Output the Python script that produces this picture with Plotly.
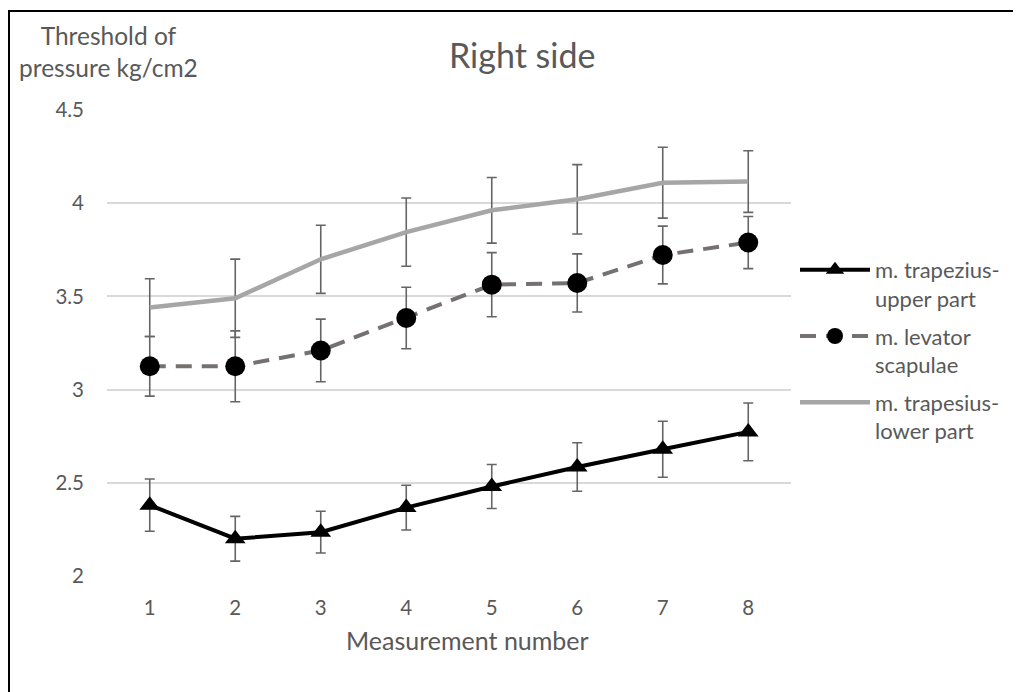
import plotly.graph_objects as go

measurements = [1, 2, 3, 4, 5, 6, 7, 8]
upper = [2.38, 2.20, 2.235, 2.367, 2.48, 2.585, 2.68, 2.773]
upper_err = [0.14, 0.12, 0.112, 0.12, 0.118, 0.13, 0.15, 0.155]
levator = [3.125, 3.125, 3.21, 3.384, 3.563, 3.572, 3.722, 3.789]
levator_err = [0.16, 0.19, 0.168, 0.165, 0.172, 0.156, 0.155, 0.14]
lower = [3.44, 3.49, 3.699, 3.845, 3.962, 4.021, 4.11, 4.116]
lower_err = [0.155, 0.21, 0.183, 0.183, 0.176, 0.186, 0.19, 0.165]
y_ticks = [2, 2.5, 3, 3.5, 4, 4.5]
y_tick_text = ["2", "2.5", "3", "3.5", "4", "4.5"]

FONT = "Lato, Carlito, Calibri, sans-serif"
TXT = "#595959"
ERR = dict(type="data", visible=True, color="#656565", thickness=1.6, width=5)

fig = go.Figure()
fig.add_trace(go.Scatter(
    x=measurements, y=upper, name="m. trapezius-<br>upper part", legendgroup="a",
    mode="lines+markers", line=dict(color="#000000", width=4),
    marker=dict(symbol="triangle-up", size=18, color="#000000"),
    error_y=dict(array=upper_err, **ERR)))
fig.add_trace(go.Scatter(
    x=measurements, y=levator, name="m. levator<br>scapulae", legendgroup="b",
    mode="lines+markers", line=dict(color="#767171", width=4, dash="16px,10px"),
    marker=dict(symbol="circle", size=20, color="#000000"),
    error_y=dict(array=levator_err, **ERR)))
fig.add_trace(go.Scatter(
    x=measurements, y=lower, name="m. trapesius-<br>lower part", legendgroup="c",
    mode="lines", line=dict(color="#a6a6a6", width=4.5),
    error_y=dict(array=lower_err, **ERR)))

# page geometry (browser body has an 8px margin)
OFF = 8
PAGE_W, PAGE_H = 1021, 692
PL, PR, PT, PB = 107, 791, 110, 576   # plot area in page pixels
W, H = PAGE_W - OFF, PAGE_H - OFF
pw = PR - PL
ph = PB - PT

def px_x(px):
    return (px - PL) / pw

def px_y(py):
    return (PB - py) / ph

fig.update_layout(
    width=W, height=H,
    margin=dict(l=PL - OFF, r=W - (PR - OFF), t=PT - OFF, b=H - (PB - OFF)),
    paper_bgcolor="white", plot_bgcolor="white",
    font=dict(family=FONT, color=TXT, size=20),
    showlegend=True,
    legend=dict(x=px_x(795), y=px_y(249), xanchor="left", yanchor="top",
                valign="top", traceorder="grouped", tracegroupgap=6,
                itemwidth=70, font=dict(size=22, color=TXT, family=FONT),
                bgcolor="rgba(0,0,0,0)"),
    xaxis=dict(range=[0.5, 8.5], tickmode="array", tickvals=measurements,
               ticktext=[str(m) for m in measurements], showgrid=False,
               zeroline=False, showline=False, ticks="", ticklabelstandoff=17,
               tickfont=dict(size=20.5, color=TXT, family=FONT)),
    yaxis=dict(range=[2, 4.5], tickmode="array", tickvals=y_ticks, ticktext=y_tick_text,
               showgrid=True, gridcolor="#d9d9d9", gridwidth=1.5, zeroline=False,
               showline=False, ticks="", ticklabelstandoff=22,
               tickfont=dict(size=20.5, color=TXT, family=FONT)),
    annotations=[
        dict(text="Right side", x=px_x(522), y=px_y(55), xref="paper", yref="paper",
             showarrow=False, xanchor="center", yanchor="middle",
             font=dict(size=34, color=TXT, family=FONT)),
        dict(text="Threshold of<br>pressure kg/cm2", x=px_x(108), y=px_y(51),
             xref="paper", yref="paper", showarrow=False, xanchor="center",
             yanchor="middle", align="center",
             font=dict(size=24.5, color=TXT, family=FONT)),
        dict(text="Measurement number", x=px_x(467), y=px_y(640), xref="paper",
             yref="paper", showarrow=False, xanchor="center", yanchor="middle",
             font=dict(size=25, color=TXT, family=FONT)),
    ],
    shapes=[dict(type="rect", xref="paper", yref="paper",
                 x0=px_x(9), x1=px_x(1040), y0=px_y(710), y1=px_y(11),
                 line=dict(color="#000000", width=2), fillcolor="rgba(0,0,0,0)",
                 layer="below")],
)

fig.write_html("out.html")
